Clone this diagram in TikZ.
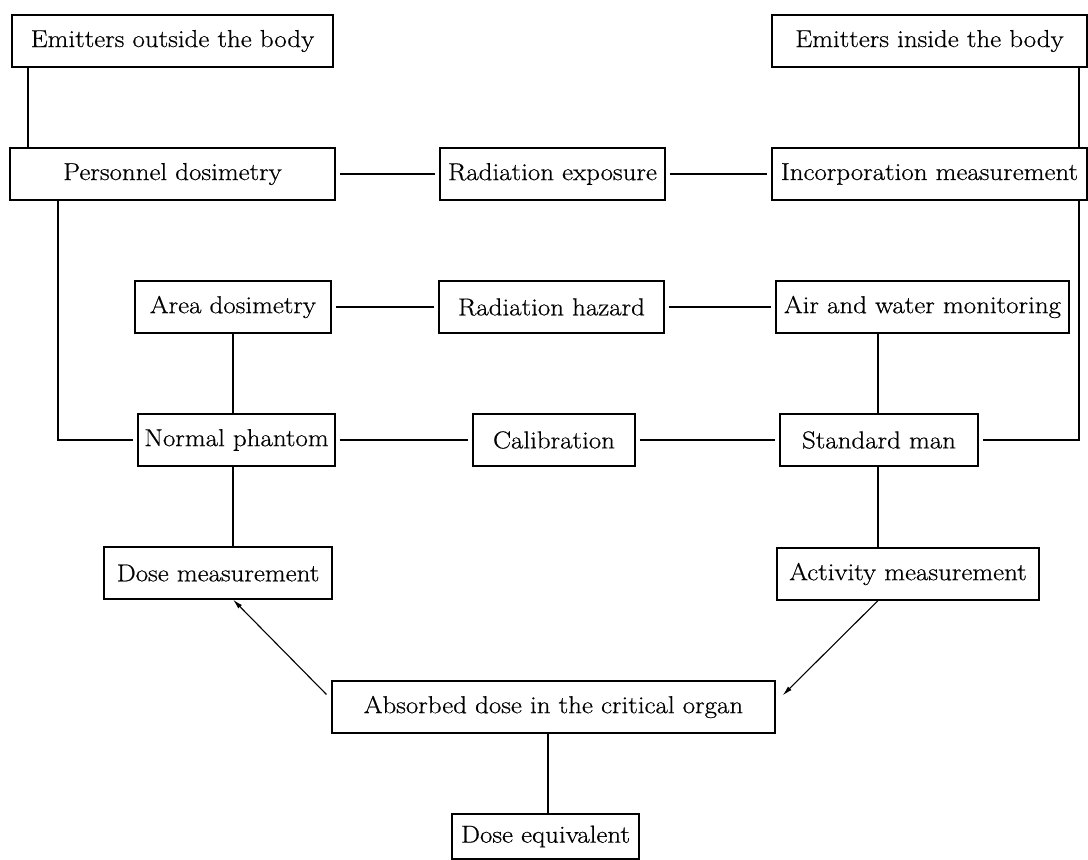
\documentclass[tikz,border=0pt]{standalone}
\usepackage{fontspec}
\setmainfont{Latin Modern Roman}[FakeStretch=1.1, FakeBold=0.6]
\usetikzlibrary{arrows.meta}
\begin{document}
\begin{tikzpicture}[x=1pt,y=-1pt,
  box/.style={draw, line width=1.2pt, inner sep=0pt, minimum height=52pt,
    font=\fontsize{24.5}{29}\selectfont},
  link/.style={line width=1.1pt},
  gap/.style={link, shorten <=4pt, shorten >=4pt},
  arr/.style={link, -{Latex[length=10pt,width=5pt]}}]
\path[use as bounding box] (0,0) rectangle (1088,860);
% column coordinates
\coordinate (xL) at (28,0);
\coordinate (xLL) at (58,0);
\coordinate (xR) at (1079,0);
\coordinate (xA) at (233,0);
\coordinate (xS) at (878,0);
\coordinate (xC) at (548,0);
% nodes
\node[box, minimum width=321pt] (eo) at (172.5,41) {Emitters outside the body};
\node[box, minimum width=315pt] (ei) at (929.5,41) {Emitters inside the body};
\node[box, minimum width=325pt] (pd) at (172.5,174) {Personnel dosimetry};
\node[box, minimum width=225pt] (re) at (552.5,174) {Radiation exposure};
\node[box, minimum width=315pt] (im) at (929.5,174) {Incorporation measurement};
\node[box, minimum width=196pt] (ad) at (233,307) {Area dosimetry};
\node[box, minimum width=225pt] (rh) at (551.5,307) {Radiation hazard};
\node[box, minimum width=293pt] (aw) at (922.5,307) {Air and water monitoring};
\node[box, minimum width=197pt] (np) at (236.5,440) {Normal phantom};
\node[box, minimum width=162pt] (cal) at (554,440) {Calibration};
\node[box, minimum width=198pt] (sm) at (879,440) {Standard man};
\node[box, minimum width=228pt] (dm) at (218,573) {Dose measurement};
\node[box, minimum width=262pt] (am) at (908,574) {Activity measurement};
\node[box, minimum width=443pt] (ab) at (553.5,707) {Absorbed dose in the critical organ};
\node[box, minimum width=187pt, minimum height=45pt] (de) at (545.5,836.5) {Dose equivalent};
% connectors
\draw[link] (eo.south -| xL) -- (pd.north -| xL);
\draw[link] (ei.south -| xR) -- (im.north -| xR);
\draw[gap] (pd.east) -- (re.west);
\draw[gap] (re.east) -- (im.west);
\draw[link, shorten >=4pt] (pd.south -| xLL) |- (np.west);
\draw[link, shorten >=4pt] (im.south -| xR) |- (sm.east);
\draw[gap] (ad.east) -- (rh.west);
\draw[gap] (rh.east) -- (aw.west);
\draw[link] (ad.south -| xA) -- (np.north -| xA);
\draw[link] (aw.south -| xS) -- (sm.north -| xS);
\draw[gap] (np.east) -- (cal.west);
\draw[gap] (cal.east) -- (sm.west);
\draw[link] (np.south -| xA) -- (dm.north -| xA);
\draw[link] (sm.south -| xS) -- (am.north -| xS);
\draw[arr] ([xshift=-5pt,yshift=-14pt]ab.north west) -- (dm.south -| xA);
\draw[arr] (am.south -| xS) -- ([xshift=7pt,yshift=-15pt]ab.north east);
\draw[link] (ab.south -| xC) -- (de.north -| xC);
\end{tikzpicture}
\end{document}
